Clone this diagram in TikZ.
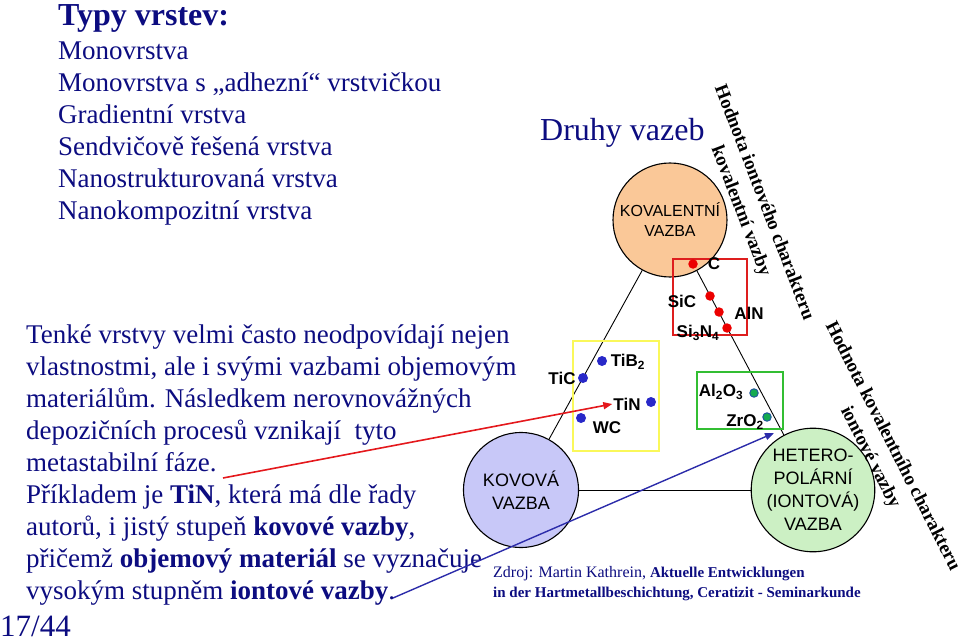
\documentclass[tikz,border=0pt]{standalone}
\usepackage{fontspec}
\setmainfont{Liberation Serif}
\setsansfont{Liberation Sans}
\usetikzlibrary{arrows.meta}
\definecolor{navytext}{RGB}{12,12,128}
\definecolor{kovfill}{RGB}{200,200,248}
\definecolor{kovalfill}{RGB}{250,200,152}
\definecolor{hetfill}{RGB}{204,240,196}
\definecolor{dotred}{RGB}{236,0,0}
\definecolor{dotblue}{RGB}{40,40,200}
\definecolor{dotgreen}{RGB}{20,170,80}
\definecolor{dotrim}{RGB}{30,80,160}
\definecolor{boxred}{RGB}{222,30,30}
\definecolor{boxyellow}{RGB}{250,248,90}
\definecolor{boxgreen}{RGB}{50,190,50}
\definecolor{arrred}{RGB}{228,24,28}
\definecolor{arrblue}{RGB}{44,44,170}

\begin{document}
\begin{tikzpicture}[
  x=1pt, y=-1pt, >=Stealth,
  txt/.style={anchor=base west, inner sep=0pt, text=navytext,
              font=\fontsize{27}{32}\selectfont},
  head/.style={txt, font=\bfseries\fontsize{32}{36}\selectfont},
  bond/.style={circle, draw=black, line width=1.1pt, minimum size=115pt,
               inner sep=0pt, align=center,
               font=\sffamily\fontsize{18}{23}\selectfont},
  cmp/.style={font=\sffamily\bfseries\fontsize{17}{19}\selectfont, inner sep=1pt},
  dotr/.style={circle, fill=dotred, inner sep=0pt, minimum size=9.5pt},
  dotb/.style={circle, fill=dotblue, inner sep=0pt, minimum size=10pt},
  dotg/.style={circle, fill=dotgreen, draw=dotrim, line width=0.9pt,
               inner sep=0pt, minimum size=8.5pt},
  grp/.style={draw, line width=1.2pt},
  axis/.style={font=\bfseries\fontsize{19}{25}\selectfont, align=center,
               inner sep=0pt},
  arr/.style={-{Triangle[length=9pt,width=7pt]}, line width=1.6pt}
]
\useasboundingbox (0,0) rectangle (960,644);

% ---- left column
\node[head] (typy) at (58,26) {Typy vrstev:};
\foreach \ln [count=\i] in {Monovrstva, {Monovrstva s „adhezní“ vrstvičkou},
  Gradientní vrstva, Sendvičově řešená vrstva, Nanostrukturovaná vrstva,
  Nanokompozitní vrstva}
  \node[txt, name=v\i] at (58,28+32*\i) {\ln};

\foreach \ln [count=\i] in {{Tenké vrstvy velmi často neodpovídají nejen},
  {vlastnostmi, ale i svými vazbami objemovým},
  {materiálům. Následkem nerovnovážných},
  {depozičních procesů vznikají\ \ tyto},
  {metastabilní fáze.},
  {Příkladem je \textbf{TiN}, která má dle řady},
  {autorů, i jistý stupeň \textbf{kovové vazby},},
  {přičemž \textbf{objemový materiál} se vyznačuje},
  {vysokým stupněm \textbf{iontové vazby}.}}
  \node[txt, name=p\i] at (26,311+32.1*\i) {\ln};

\node[txt, font=\fontsize{31}{34}\selectfont] (page) at (0,636) {17/44};

% ---- bond triangle
\node[txt, font=\fontsize{32}{36}\selectfont] (druhy) at (540,141) {Druhy vazeb};

\node[bond, fill=kovalfill, minimum size=114pt,
      font=\sffamily\fontsize{16}{20}\selectfont] (koval) at (670,220)
  {KOVALENTNÍ\\VAZBA};
\node[bond, fill=kovfill] (kov) at (521,490) {KOVOVÁ\\VAZBA};
\node[bond, fill=hetfill] (het) at (813,490)
  {HETERO-\\POLÁRNÍ\\(IONTOVÁ)\\VAZBA};

\draw[line width=0.9pt] (kov) -- (koval);
\draw[line width=0.9pt] (koval) -- (het);
\draw[line width=0.9pt] (kov) -- (het);

% ---- groups
\draw[grp, draw=boxred] (673,259) rectangle (747,335);
\draw[grp, draw=boxyellow] (573,341) rectangle (659,451);
\draw[grp, draw=boxgreen] (697,372) rectangle (783,429);

% ---- covalent compounds
\node[dotr] (dc) at (693,264) {};
\node[dotr] (dsic) at (710,296) {};
\node[dotr] (daln) at (719,312) {};
\node[dotr] (dsin) at (727,328) {};
\node[cmp] (c) at (714,264) {C};
\node[cmp] (sic) at (682,301) {SiC};
\node[cmp] (aln) at (749,313) {AlN};
\node[cmp] (sin) at (698,333) {Si\textsubscript{3}N\textsubscript{4}};

% ---- metallic compounds
\node[dotb] (dtic) at (583,378) {};
\node[dotb] (dtib) at (602,361) {};
\node[dotb] (dtin) at (651,402) {};
\node[dotb] (dwc) at (581,418) {};
\node[cmp] (tic) at (562,378) {TiC};
\node[cmp] (tib) at (628,362) {TiB\textsubscript{2}};
\node[cmp] (tin) at (627,404) {TiN};
\node[cmp] (wc) at (607,428) {WC};

% ---- ionic compounds
\node[dotg] (dal) at (754,393) {};
\node[dotg] (dzr) at (767,417) {};
\node[cmp] (al) at (721,392) {Al\textsubscript{2}O\textsubscript{3}};
\node[cmp] (zr) at (745,422) {ZrO\textsubscript{2}};

% ---- axis captions
\node[axis, rotate=-69] (ionax) at (752,207)
  {Hodnota iontového charakteru\\kovalentní vazby};
\node[axis, rotate=-63] (covax) at (881,452)
  {Hodnota kovalentního charakteru\\iontové vazby};

% ---- source
\node[txt, font=\fontsize{16}{20}\selectfont] (zdroj) at (493,577)
  {Zdroj: Martin Kathrein,
   {\bfseries\fontsize{15}{20}\selectfont Aktuelle Entwicklungen}};
\node[txt, font=\bfseries\fontsize{15}{20}\selectfont] (zdroj2) at (493,597)
  {in der Hartmetallbeschichtung, Ceratizit - Seminarkunde};

% ---- pointers
\coordinate (fromtin) at (223,478);
\coordinate (fromion) at (393,598);
\coordinate (toion) at (774,433);
\draw[arr, draw=arrred, fill=arrred] (fromtin) -- (tin.west);
\draw[arr, draw=arrblue, fill=arrblue, line width=1.4pt] (fromion) -- (toion);
\end{tikzpicture}
\end{document}
